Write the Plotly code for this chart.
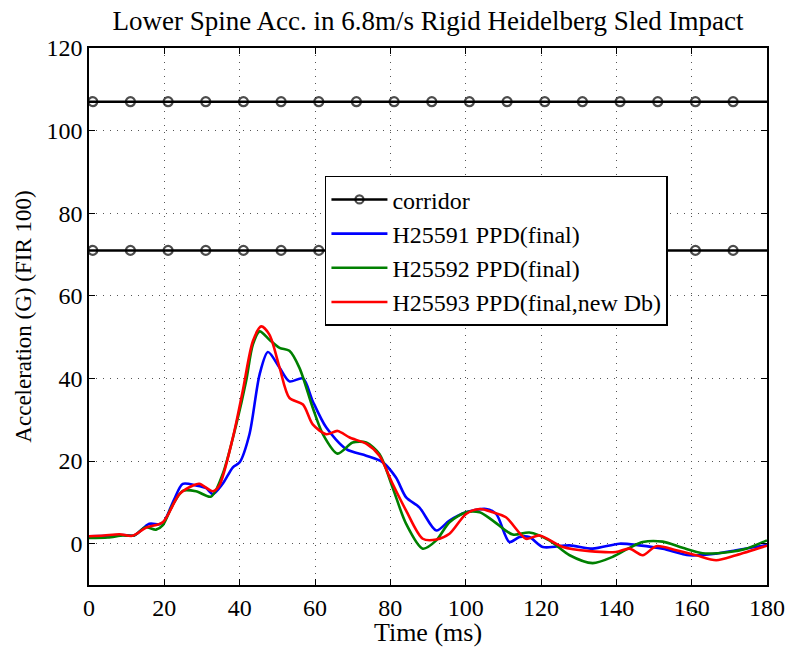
import plotly.graph_objects as go

# ---- data ----
corr_x = [0, 1, 11, 21, 31, 41, 51, 61, 71, 81, 91, 101, 111, 121, 131, 141, 151, 161, 171, 180]
corr_upper = [107] * len(corr_x)
corr_lower = [71] * len(corr_x)

t_blue = [0, 5, 9, 12, 16, 18.7, 20, 22.5, 24.9, 28.4, 31, 32.9, 35.5, 38.2, 40, 42.6, 45.3, 47.5, 50.6, 53.2,
          56.8, 59.4, 63, 68.3, 73.6, 78, 81.5, 84.2, 87.7, 92.2, 95.7, 100.1, 105.4, 108.1, 111.6, 114.3,
          116.9, 120.5, 127.6, 133.7, 140.8, 146.1, 152.3, 159.4, 166.5, 171.8, 180]
g_blue = [1.8, 1.9, 2.1, 2.0, 4.8, 4.7, 5.5, 10.5, 14.5, 14.1, 13.5, 12.0, 14.5, 18.5, 19.7, 26.5, 41.0, 46.4, 42.6, 39.3,
          40.0, 34.5, 28.1, 22.9, 21.3, 19.7, 16.0, 11.2, 8.8, 3.2, 5.6, 7.6, 8.4, 7.2, 0.4, 1.6,
          1.6, -0.8, -0.4, -1.2, 0.0, -0.4, -1.2, -2.8, -2.4, -1.6, -0.3]

t_green = [0, 5, 9, 12, 15, 17.8, 19.6, 22, 24.9, 28.4, 32.4, 35.5, 39.1, 41.7, 43.5, 45.3, 47.9, 50.6, 53.2, 55.9,
           59.4, 62.1, 66, 70, 73.6, 77.1, 80.6, 84.2, 88.6, 92.2, 95.7, 100.1, 103.7, 107.2, 112.5, 116.9,
           122.2, 127.6, 133.7, 139, 143.5, 147, 152.3, 157.6, 162.9, 170, 174.5, 180]
g_green = [1.4, 1.5, 2.0, 2.0, 4.0, 3.4, 4.5, 9.0, 12.8, 12.7, 11.4, 16.9, 28.9, 39.3, 48.2, 51.4, 49.4, 47.4, 46.7, 42.5,
           32.9, 26.5, 21.8, 24.5, 24.5, 21.7, 13.6, 4.8, -1.2, 0.8, 5.2, 7.6, 7.6, 5.6, 2.2, 2.7,
           0.8, -2.8, -4.7, -3.2, -1.0, 0.4, 0.5, -1.0, -2.3, -2.0, -1.2, 0.8]

t_red = [0, 4, 8.1, 11.5, 15.2, 19.6, 24, 27.6, 29.3, 32.9, 34.6, 38.2, 40.8, 43.5, 45.7, 47.9, 50.6, 53.2, 56.8,
         59.4, 63, 66, 69.2, 73.6, 77.1, 80.6, 84.2, 88.6, 92.2, 95.7, 100.1, 103.7, 107.2, 110.7, 116, 119.6,
         125.8, 132.9, 139.9, 143.5, 147, 150.6, 155.9, 161.2, 166.5, 171.8, 180]
g_red = [1.8, 2.0, 2.3, 1.9, 3.9, 5.2, 12.0, 14.1, 14.5, 12.7, 14.1, 25.7, 36.9, 49.0, 52.6, 50.6, 42.6, 35.3, 33.7,
         28.9, 26.5, 27.3, 25.7, 24.2, 21.3, 14.5, 8.0, 1.2, 1.0, 2.4, 7.2, 8.4, 7.6, 6.4, 1.2, 2.0,
         -0.8, -1.8, -2.0, -1.2, -2.8, -0.6, -1.6, -2.8, -4.0, -2.8, -0.5]

x_ticks = [0, 20, 40, 60, 80, 100, 120, 140, 160, 180]
y_ticks = [0, 20, 40, 60, 80, 100, 120]

FONT = "Liberation Serif"

fig = go.Figure()

msize = [0] + [9] * (len(corr_x) - 2) + [0]
for i, yy in enumerate([corr_upper, corr_lower]):
    fig.add_trace(go.Scatter(
        x=corr_x, y=yy, mode="lines+markers", name="corridor",
        showlegend=(i == 0), legendgroup="corr",
        line=dict(color="black", width=2.5),
        marker=dict(symbol="circle-open", size=msize, color="black", line=dict(width=2.2, color="black")),
    ))

for name, tx, gy, col in [
    ("H25591 PPD(final)", t_blue, g_blue, "#0000ff"),
    ("H25592 PPD(final)", t_green, g_green, "#008000"),
    ("H25593 PPD(final,new Db)", t_red, g_red, "#ff0000"),
]:
    fig.add_trace(go.Scatter(
        x=tx, y=gy, mode="lines", name=name,
        line=dict(color=col, width=2.6, shape="spline", smoothing=0.8),
    ))

axis_common = dict(
    showline=True, linecolor="black", linewidth=1.5, mirror="ticks",
    ticks="inside", ticklen=6, tickcolor="black", tickwidth=1,
    showgrid=True, gridcolor="#555555", griddash="1px,6px", gridwidth=1,
    zeroline=False, automargin=False,
    tickfont=dict(family=FONT, size=24, color="black"),
)

fig.update_layout(
    width=790, height=647,
    margin=dict(l=89, r=23, t=48, b=62),
    paper_bgcolor="white", plot_bgcolor="white",
    font=dict(family=FONT, color="black"),
    title=dict(text="Lower Spine Acc. in 6.8m/s Rigid Heidelberg Sled Impact",
               x=0.5, xanchor="center", xref="paper", y=0.968, yanchor="middle",
               font=dict(family=FONT, size=27, color="black")),
    xaxis=dict(range=[0, 180], tickvals=x_ticks,
               title=dict(text="Time (ms)", font=dict(family=FONT, size=26), standoff=0),
               **axis_common),
    yaxis=dict(range=[-10, 120], tickvals=y_ticks,
               title=dict(text="Acceleration (G) (FIR 100)", font=dict(family=FONT, size=23), standoff=8),
               **axis_common),
    legend=dict(x=0.348, y=0.762, xanchor="left", yanchor="top",
                bgcolor="white", bordercolor="black", borderwidth=1.5,
                font=dict(family=FONT, size=24, color="black"),
                tracegroupgap=0, itemwidth=56),
    showlegend=True,
)

fig.write_html("out.html")
